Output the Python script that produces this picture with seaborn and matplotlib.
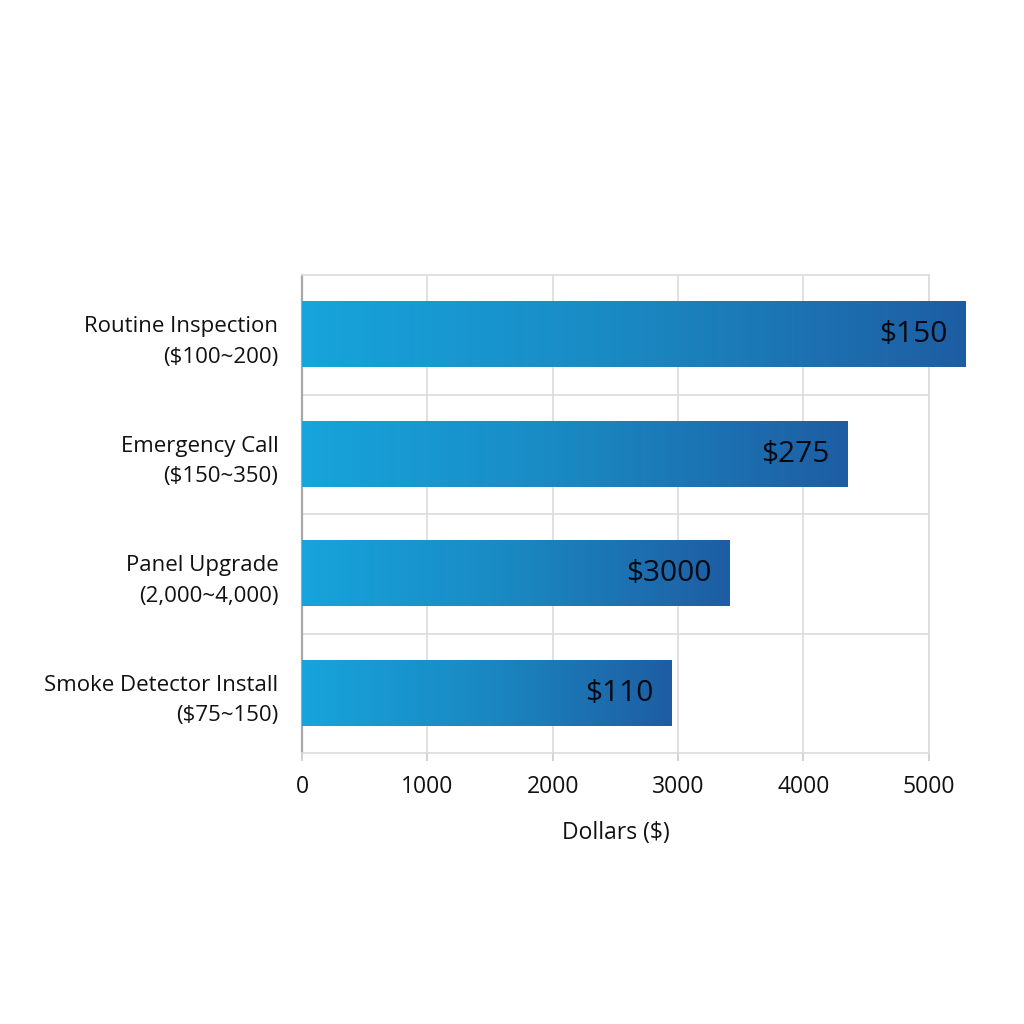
import numpy as np
import matplotlib
matplotlib.use("Agg")
import matplotlib.pyplot as plt
import seaborn as sns
import pandas as pd
from matplotlib.colors import LinearSegmentedColormap

categories = ["Routine Inspection\n($100~200)", "Emergency Call\n($150~350)",
              "Panel Upgrade\n(2,000~4,000)", "Smoke Detector Install\n($75~150)"]
values = [5290, 4350, 3410, 2945]
value_labels = ["$150", "$275", "$3000", "$110"]
x_ticks = [0, 1000, 2000, 3000, 4000, 5000]

sns.set_theme(style="white")
plt.rcParams['font.family'] = ['Open Sans', 'DejaVu Sans']

fig = plt.figure(figsize=(10.24, 10.24), dpi=100)
ax = fig.add_axes([0.295, 0.2646, 0.612, 0.4668])
df = pd.DataFrame({"cat": categories, "val": values})
sns.barplot(data=df, y="cat", x="val", orient="h", width=0.545, ax=ax, color="#1a8fd0")

cmap = LinearSegmentedColormap.from_list("g", ["#17A4DC", "#1A88C2", "#1E5DA3"])
grad = np.linspace(0, 1, 256).reshape(1, -1)
for p in ax.patches:
    x0, y0 = p.get_x(), p.get_y()
    w, h = p.get_width(), p.get_height()
    p.set_facecolor("none")
    p.set_edgecolor("none")
    ax.imshow(grad, cmap=cmap, extent=[x0, x0 + w, y0 + h, y0], aspect="auto",
              zorder=3, clip_on=False, interpolation="bicubic")

ax.set_xlim(0, 5000)
ax.set_ylim(3.5, -0.5)

for i, (v, lbl) in enumerate(zip(values, value_labels)):
    ax.annotate(lbl, xy=(v, i), xytext=(-13, 0), textcoords="offset points",
                ha="right", va="center", fontsize=21.5, color="#050a12", zorder=4,
                annotation_clip=False)

ax.set_axisbelow(True)
ax.set_xticks(x_ticks)
ax.set_xticklabels([str(t) for t in x_ticks])
ax.set_yticks(range(len(categories)))
ax.set_yticklabels(categories, linespacing=1.6)
ax.xaxis.grid(True, color="#dcdcdc", lw=1.2)
ax.set_yticks([0.5, 1.5, 2.5], minor=True)
ax.yaxis.grid(True, which="minor", color="#dcdcdc", lw=1.2)
ax.yaxis.grid(False, which="major")

ax.tick_params(axis="x", which="major", bottom=True, length=6, color="#cccccc",
               width=1.2, labelsize=16.5, pad=10, labelcolor="#111111")
ax.tick_params(axis="y", which="both", left=False, length=0, pad=17,
               labelsize=16, labelcolor="#111111")

ax.set_xlabel("Dollars ($)", fontsize=16.5, labelpad=16, color="#111111")
ax.set_ylabel("")

for s in ["top", "right", "bottom"]:
    ax.spines[s].set_visible(True)
    ax.spines[s].set_color("#dcdcdc")
    ax.spines[s].set_linewidth(1.2)
ax.spines["left"].set_color("#a8a8a8")
ax.spines["left"].set_linewidth(1.6)

fig.savefig("out.png", dpi=100, facecolor="white")
